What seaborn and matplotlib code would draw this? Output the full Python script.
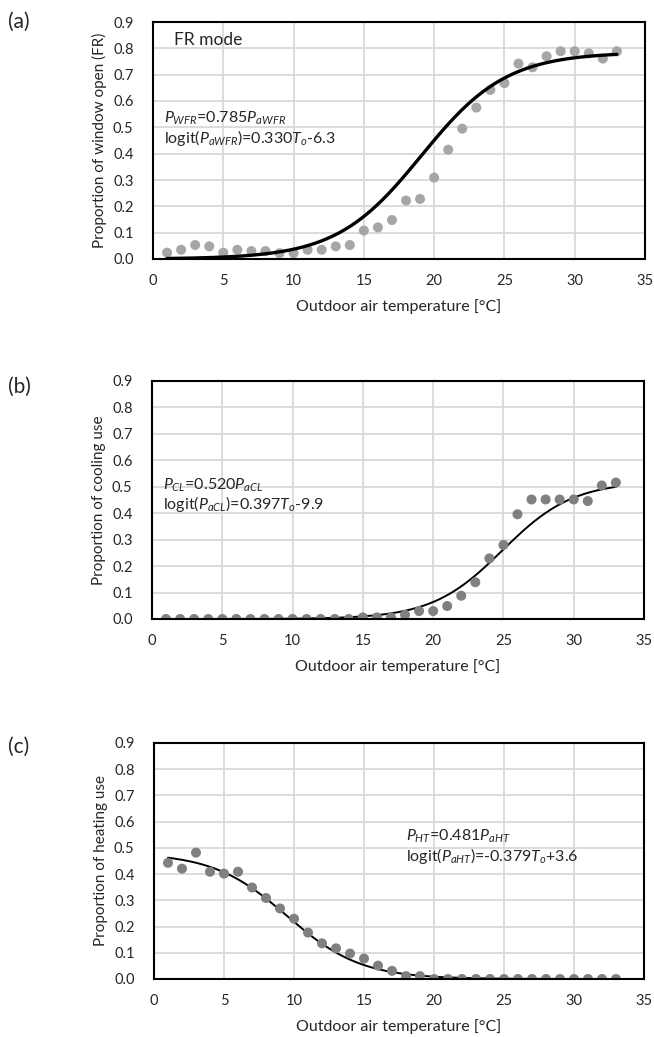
import numpy as np
import pandas as pd
import matplotlib
matplotlib.use("Agg")
import matplotlib.pyplot as plt
import seaborn as sns

# ---------------- data ----------------
temp = list(range(1, 34))

window_open = [0.024, 0.035, 0.053, 0.048, 0.024, 0.035, 0.030, 0.030, 0.022, 0.022,
               0.035, 0.035, 0.048, 0.053, 0.108, 0.120, 0.148, 0.222, 0.228, 0.309,
               0.415, 0.495, 0.575, 0.642, 0.668, 0.742, 0.728, 0.770, 0.789, 0.789,
               0.781, 0.761, 0.789]

cooling_use = [0.0, 0.0, 0.0, 0.0, 0.0, 0.0, 0.0, 0.0, 0.0, 0.0,
               0.0, 0.0, 0.0, 0.0, 0.006, 0.006, 0.006, 0.016, 0.030, 0.030,
               0.049, 0.088, 0.139, 0.229, 0.280, 0.396, 0.452, 0.452, 0.452, 0.452,
               0.446, 0.505, 0.516]

heating_use = [0.443, 0.421, 0.482, 0.409, 0.402, 0.409, 0.349, 0.309, 0.269, 0.230,
               0.177, 0.136, 0.117, 0.097, 0.078, 0.051, 0.031, 0.011, 0.011, 0.0,
               0.0, 0.0, 0.0, 0.0, 0.0, 0.0, 0.0, 0.0, 0.0, 0.0,
               0.0, 0.0, 0.0]

# fitted model coefficients (scale, slope, intercept) as printed on the chart
fit_fr = (0.785, 0.330, -6.3)
fit_cl = (0.520, 0.397, -9.9)
fit_ht = (0.481, -0.379, 3.6)

xticks = [0, 5, 10, 15, 20, 25, 30, 35]
yticks = [0.0, 0.1, 0.2, 0.3, 0.4, 0.5, 0.6, 0.7, 0.8, 0.9]

panel_labels = ["(a)", "(b)", "(c)"]
ylabels = ["Proportion of window open (FR)", "Proportion of cooling use", "Proportion of heating use"]
xlabel = "Outdoor air temperature [°C]"
eq_texts = [
    r"$P_{WFR}$=0.785$P_{aWFR}$" + "\n" + r"logit($P_{aWFR}$)=0.330$T_o$-6.3",
    r"$P_{CL}$=0.520$P_{aCL}$" + "\n" + r"logit($P_{aCL}$)=0.397$T_o$-9.9",
    r"$P_{HT}$=0.481$P_{aHT}$" + "\n" + r"logit($P_{aHT}$)=-0.379$T_o$+3.6",
]

# ---------------- style ----------------
sns.set_theme(style="white")
plt.rcParams["font.family"] = ["Lato", "DejaVu Sans"]
plt.rcParams["mathtext.fontset"] = "custom"
plt.rcParams["mathtext.rm"] = "Lato"
plt.rcParams["mathtext.it"] = "Lato:italic"
plt.rcParams["mathtext.default"] = "it"

fig = plt.figure(figsize=(6.54, 10.37), dpi=100)

rects = [
    [153 / 654, 1 - 259 / 1037, 492 / 654, 237 / 1037],
    [152 / 654, 1 - 619 / 1037, 492 / 654, 238 / 1037],
    [154 / 654, 1 - 979 / 1037, 490 / 654, 236 / 1037],
]
series = [window_open, cooling_use, heating_use]
fits = [fit_fr, fit_cl, fit_ht]
colors = ["#A6A6A6", "#808080", "#808080"]
lws = [2.4, 1.4, 1.4]
eq_pos = [(0.8, 0.494), (0.76, 0.468), (18.0, 0.503)]
label_y = [22, 387, 747]

for i in range(3):
    ax = fig.add_axes(rects[i])
    df = pd.DataFrame({"T": temp, "P": series[i]})
    a, b, c = fits[i]
    tt = np.linspace(temp[0], temp[-1], 300)
    fit_df = pd.DataFrame({"T": tt, "P": a / (1 + np.exp(-(b * tt + c)))})

    line_z = 3 if i == 0 else 2
    sns.scatterplot(data=df, x="T", y="P", ax=ax, color=colors[i], s=52,
                    edgecolor="none", zorder=2.5, legend=False)
    sns.lineplot(data=fit_df, x="T", y="P", ax=ax, color="black", lw=lws[i],
                 zorder=line_z, legend=False)

    ax.set_xlim(0, 35)
    ax.set_ylim(0, 0.9)
    ax.set_xticks(xticks)
    ax.set_yticks(yticks)
    ax.set_xticklabels([str(v) for v in xticks], fontsize=10.5)
    ax.set_yticklabels([f"{v:.1f}" for v in yticks], fontsize=10.5)
    ax.tick_params(axis="y", length=0, pad=14)
    ax.tick_params(axis="x", length=0, pad=11)
    ax.grid(True, color="#D9D9D9", lw=1.3)
    ax.set_axisbelow(True)
    for sp in ax.spines.values():
        sp.set_color("black")
        sp.set_linewidth(1.5)
    ax.set_xlabel(xlabel, fontsize=11.5, labelpad=8)
    ax.set_ylabel(ylabels[i], fontsize=11, labelpad=4)

    ex, ey = eq_pos[i]
    ax.text(ex, ey, eq_texts[i], fontsize=11.5, va="center", ha="left",
            linespacing=1.05)
    if i == 0:
        ax.text(1.5, 0.83, "FR mode", fontsize=12.5, va="center", ha="left")

    fig.text(8 / 654, 1 - label_y[i] / 1037, panel_labels[i], fontsize=15,
             va="center", ha="left")

fig.savefig("out.png", dpi=100)
